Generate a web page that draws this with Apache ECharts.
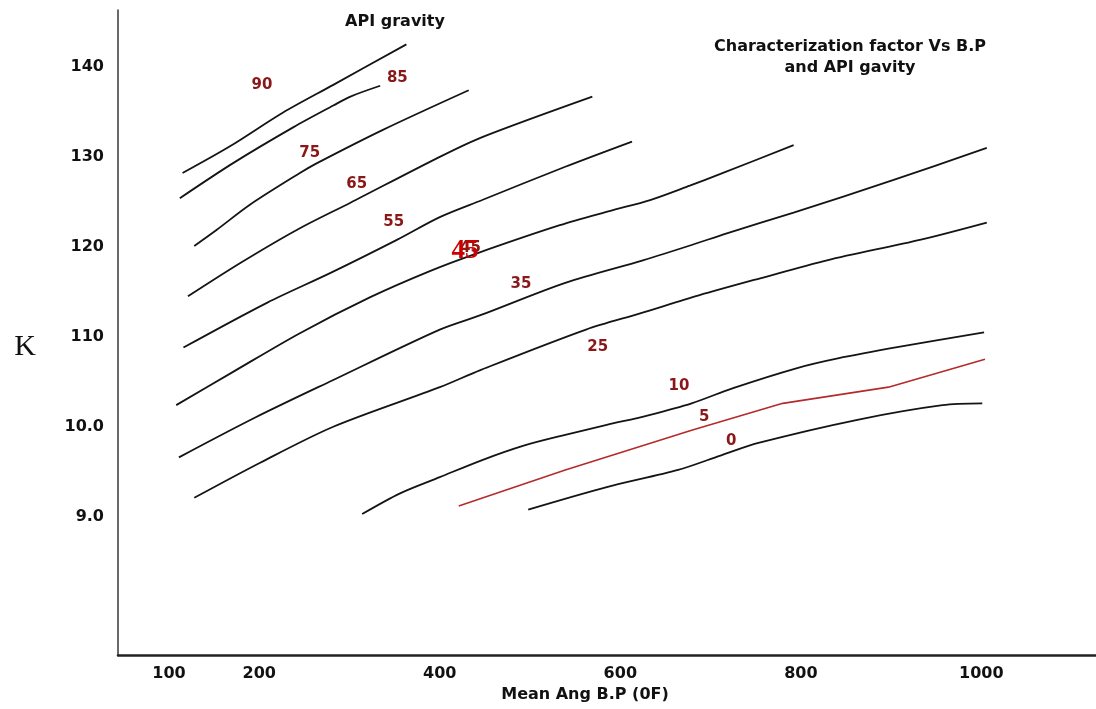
<!DOCTYPE html>
<html><head><meta charset="utf-8">
<script src="https://cdn.jsdelivr.net/npm/echarts@6/dist/echarts.min.js"></script>
<style>html,body{margin:0;padding:0;background:#fff}#c{width:1096px;height:709px}</style>
</head><body><div id="c"></div>
<script>
// Tick values
const xTicks = [100, 200, 400, 600, 800, 1000];
const yTicks = [9, 10, 11, 12, 13, 14];

// Curves: [Mean average boiling point (F), characterization factor K]
const api90 = [[115,12.82],[168,13.12],[226,13.49],[282,13.80],[363,14.25]];
const api85 = [[112,12.54],[171,12.93],[238,13.33],[282,13.57],[301,13.67],[334,13.79]];
const api75 = [[128,12.01],[153,12.19],[190,12.47],[245,12.82],[264,12.93],[337,13.30],[432,13.74]];
const api65 = [[121,11.45],[179,11.82],[242,12.19],[301,12.49],[400,13.00],[447,13.22],[569,13.67]];
const api55 = [[116,10.88],[209,11.38],[279,11.71],[353,12.08],[400,12.33],[447,12.52],[539,12.89],[613,13.17]];
const api45 = [[108,10.24],[171,10.61],[245,11.04],[323,11.44],[389,11.73],[442,11.93],[533,12.24],[589,12.40],[633,12.52],[677,12.68],[711,12.81],[792,13.13]];
const api35 = [[111,9.66],[195,10.10],[282,10.52],[400,11.08],[445,11.24],[539,11.60],[625,11.85],[679,12.02],[718,12.15],[792,12.38],[902,12.74],[1006,13.10]];
const api25 = [[128,9.21],[201,9.60],[282,10.00],[400,10.44],[445,10.63],[562,11.08],[622,11.26],[687,11.46],[755,11.65],[829,11.85],[933,12.08],[1006,12.27]];
const api10 = [[314,9.03],[356,9.26],[400,9.44],[447,9.63],[493,9.79],[539,9.91],[585,10.02],[632,10.13],[679,10.26],[725,10.43],[795,10.65],[841,10.76],[910,10.89],[1003,11.05]];
const api5  = [[421,9.12],[539,9.52],[679,9.96],[780,10.26],[897,10.44],[1004,10.75]];
const api0  = [[498,9.08],[585,9.33],[664,9.52],[711,9.68],[753,9.82],[864,10.08],[957,10.24],[1001,10.26]];

const blackCurves = [api90, api85, api75, api65, api55, api45, api35, api25, api10, api0];
const blackNames = ['90','85','75','65','55','45','35','25','10','0'];

// Curve labels (text, x, K)
const labelTexts = ['90','85','75','65','55','45','35','25','10','5','0'];
const labelX     = [203, 353, 256, 308, 349, 434, 490, 575, 665, 693, 723];
const labelY     = [13.80,13.88,13.04,12.70,12.27,11.99,11.58,10.89,10.45,10.11,9.84];
// Large overwritten label
const bigLabel = ['45', 428, 11.95];

const FONT = 'DejaVu Sans';
const series = [];
blackCurves.forEach((d, i) => {
  series.push({
    name: 'API ' + blackNames[i], type: 'line', data: d, smooth: 0.3,
    showSymbol: false, silent: true,
    lineStyle: { color: '#141414', width: 1.8 }
  });
});
series.push({
  name: 'API 5', type: 'line', data: api5, smooth: false,
  showSymbol: false, silent: true,
  lineStyle: { color: '#b52a2a', width: 1.6 }
});
series.push({
  type: 'scatter', silent: true, symbolSize: 1, z: 5,
  itemStyle: { color: 'rgba(0,0,0,0)', opacity: 1 },
  data: labelTexts.map((t, i) => ({ value: [labelX[i], labelY[i]], name: t })),
  label: { show: true, position: 'inside', formatter: p => p.name, opacity: 1,
    fontFamily: FONT, fontWeight: 'bold', fontSize: 15, color: '#8a1818' }
});
series.push({
  type: 'scatter', silent: true, symbolSize: 1, z: 6,
  itemStyle: { color: 'rgba(0,0,0,0)', opacity: 1 },
  data: [{ value: [bigLabel[1], bigLabel[2]], name: bigLabel[0] }],
  label: { show: true, position: 'inside', formatter: p => p.name, opacity: 1,
    fontFamily: 'Liberation Serif', fontWeight: 'bold', fontSize: 27, color: '#cc0000' }
});

const chart = echarts.init(document.getElementById('c'), null, { renderer: 'canvas' });
chart.setOption({
  animation: false,
  backgroundColor: '#ffffff',
  title: [
    { text: 'API gravity', left: 390, top: 9, textAlign: 'center',
      textStyle: { fontFamily: FONT, fontWeight: 'bold', fontSize: 16, color: '#111' } },
    { text: 'Characterization factor Vs B.P\nand API gavity', left: 845, top: 31, textAlign: 'center',
      textStyle: { fontFamily: FONT, fontWeight: 'bold', fontSize: 16, color: '#111', lineHeight: 21 } }
  ],
  grid: { left: 118, right: 0, top: 10, bottom: 54, containLabel: false },
  xAxis: {
    type: 'value', min: 43.5, max: 1127,
    name: 'Mean Ang B.P (0F)', nameLocation: 'middle', nameGap: 29,
    nameTextStyle: { fontFamily: FONT, fontWeight: 'bold', fontSize: 16, color: '#111', padding: [0, 44, 0, 0] },
    axisLine: { show: true, lineStyle: { color: '#222', width: 2.5 } },
    axisTick: { show: false },
    splitLine: { show: false },
    axisLabel: { customValues: xTicks, margin: 11, fontFamily: FONT, fontWeight: 'bold', fontSize: 16, color: '#111',
      formatter: v => String(v) }
  },
  yAxis: {
    type: 'value', min: 7.463, max: 14.632,
    name: '\nK', nameLocation: 'middle', nameGap: 82, nameRotate: 0,
    nameTextStyle: { fontFamily: 'Liberation Serif', fontSize: 30, lineHeight: 30, color: '#111' },
    axisLine: { show: true, lineStyle: { color: '#444', width: 1.6 } },
    axisTick: { show: false },
    splitLine: { show: false },
    axisLabel: { customValues: yTicks, margin: 14, fontFamily: FONT, fontWeight: 'bold', fontSize: 16, color: '#111',
      formatter: v => v >= 11 ? String(Math.round(v * 10)) : v.toFixed(1) }
  },
  series: series
});
</script>
</body></html>
